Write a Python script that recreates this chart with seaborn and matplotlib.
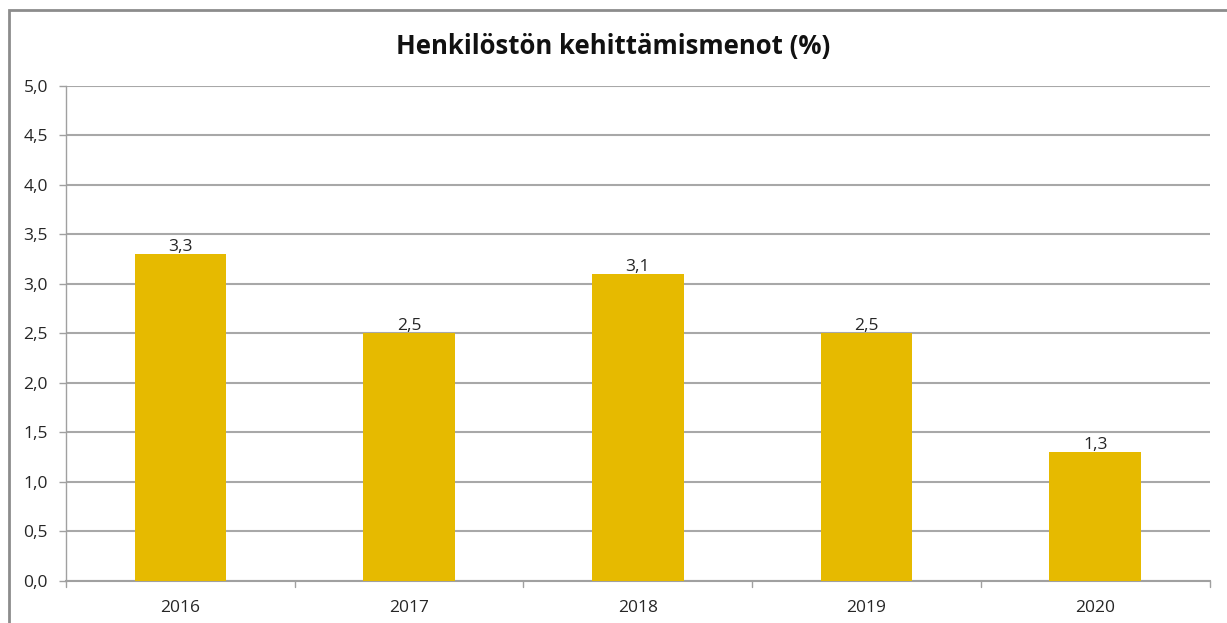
import numpy as np
import pandas as pd
import matplotlib
matplotlib.use("Agg")
import matplotlib.pyplot as plt
import seaborn as sns
from matplotlib.patches import Rectangle

# data
years = ["2016", "2017", "2018", "2019", "2020"]
values = [3.3, 2.5, 3.1, 2.5, 1.3]
y_ticks = [0.0, 0.5, 1.0, 1.5, 2.0, 2.5, 3.0, 3.5, 4.0, 4.5, 5.0]
title = "Henkilöstön kehittämismenot (%)"

df = pd.DataFrame({"vuosi": years, "arvo": values})

sns.set_theme(style="white")
plt.rcParams["font.family"] = ["Open Sans", "DejaVu Sans"]

fig = plt.figure(figsize=(12.27, 6.23), dpi=100)
ax = fig.add_axes([0.0538, 0.0674, 0.932, 0.795])

sns.barplot(data=df, x="vuosi", y="arvo", color="#E6BA00", saturation=1,
            width=0.4, linewidth=0, ax=ax, zorder=3)

ax.set_ylim(0, 5.0)
ax.set_xlim(-0.5, len(years) - 0.5)
ax.set_yticks(y_ticks)
ax.set_yticklabels([f"{v:.1f}".replace(".", ",") for v in y_ticks],
                   fontsize=12.5, color="#262626")
ax.tick_params(axis="x", labelsize=12.5, colors="#262626", length=0, pad=14)
ax.tick_params(axis="y", length=5, width=1, color="#A0A0A0", pad=8, left=True)
ax.grid(axis="y", color="#A8A8A8", linewidth=1.5, zorder=0)
ax.set_axisbelow(True)

# excel style category boundary ticks on x axis
for b in np.arange(-0.5, len(years), 1.0):
    ax.plot([b, b], [0, -0.06], color="#A0A0A0", lw=1, clip_on=False)

for s in ["top", "right"]:
    ax.spines[s].set_visible(False)
ax.spines["left"].set_color("#A0A0A0")
ax.spines["bottom"].set_color("#A0A0A0")
ax.spines["left"].set_linewidth(1)
ax.spines["bottom"].set_linewidth(1.5)

ax.set_xlabel("")
ax.set_ylabel("")

for i, v in enumerate(values):
    ax.text(i, v - 0.01, f"{v:.1f}".replace(".", ","), ha="center", va="bottom",
            fontsize=12.5, color="#262626", zorder=4)

fig.text(0.5, 0.925, title, ha="center", va="center", fontsize=18.5,
         fontweight="bold", color="#111111")

# outer chart border
fig.patches.append(Rectangle((9 / 1227, -0.01), 1.02, 1 - 10 / 623 + 0.01,
                             transform=fig.transFigure, fill=False,
                             edgecolor="#8C8C8C", linewidth=2))

fig.savefig("out.png", dpi=100)
